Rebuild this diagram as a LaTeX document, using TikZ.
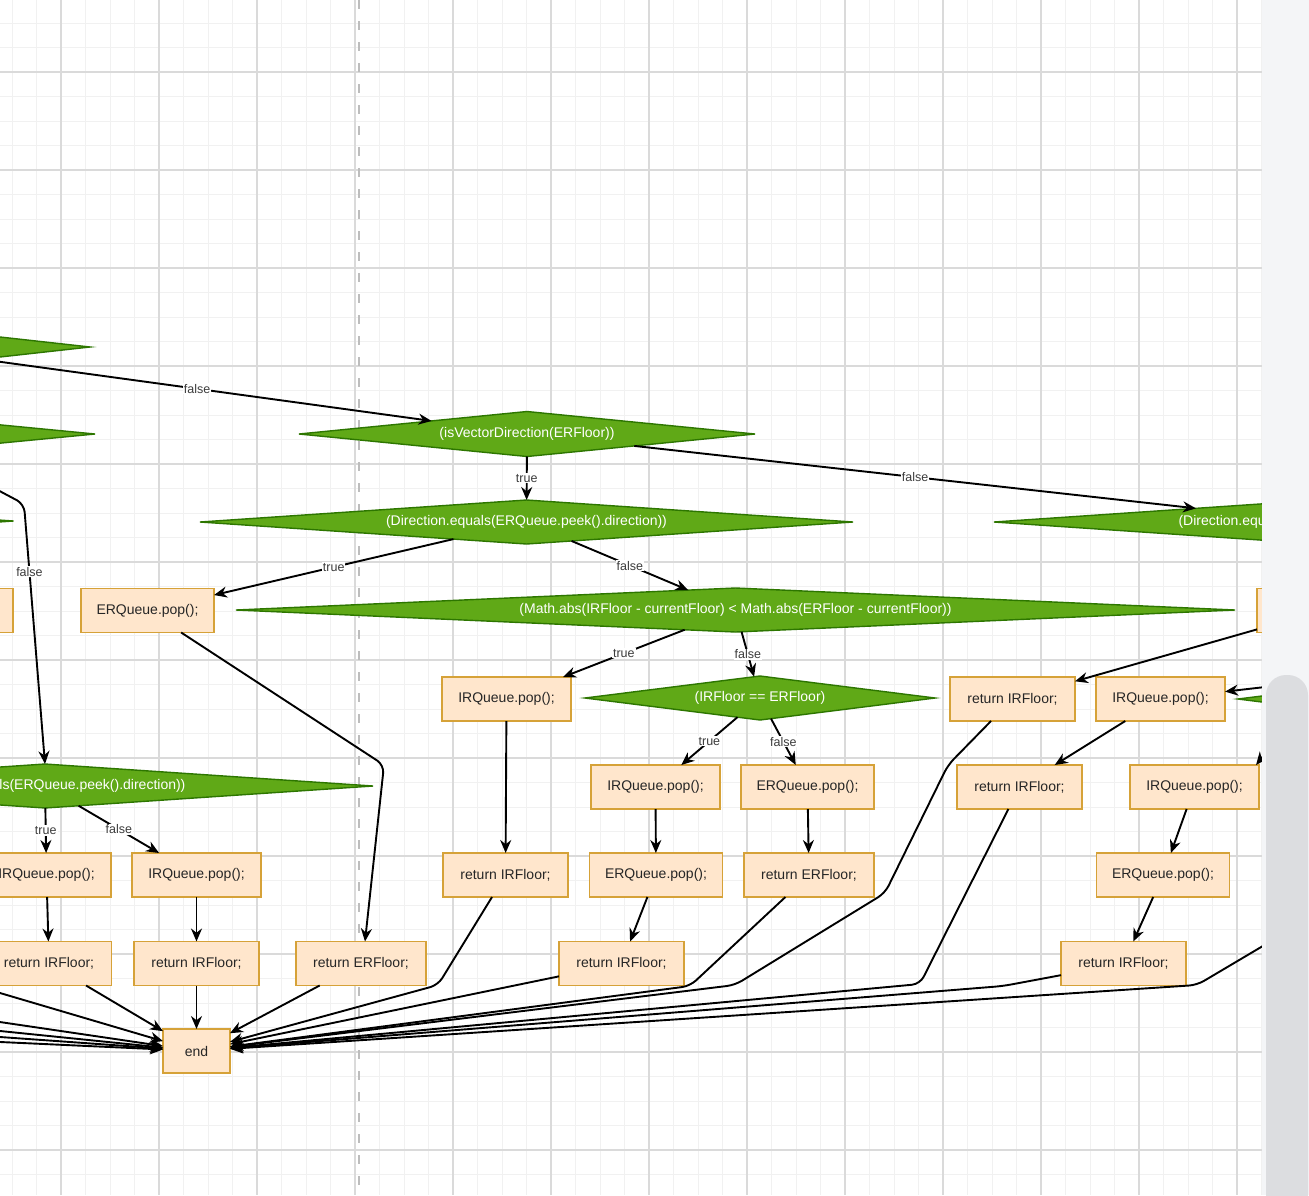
\documentclass[tikz,border=0pt]{standalone}
\usepackage{fontspec}
\setmainfont{Liberation Sans}
\usepackage{tikz}
\usepackage{xcolor}
\usetikzlibrary{shapes.geometric,arrows.meta}

\definecolor{condfill}{HTML}{60A917}
\definecolor{conddraw}{HTML}{2D7600}
\definecolor{procfill}{HTML}{FFE6CC}
\definecolor{procdraw}{RGB}{214,162,56}
\definecolor{gridminor}{HTML}{F1F1F1}
\definecolor{gridmajor}{HTML}{DADADA}
\definecolor{pageline}{HTML}{BDBDBD}
\definecolor{labtext}{HTML}{3C3C3C}
\definecolor{scrollbg}{HTML}{F4F5F7}
\definecolor{scrollthumb}{HTML}{DCDDE0}

\begin{document}
\begin{tikzpicture}[x=1pt,y=-1pt,
    cond/.style={diamond, draw=conddraw, fill=condfill, line width=1.4pt, text=white,
      inner sep=0pt, outer sep=0pt, minimum height=44, font=\fontsize{14}{16}\selectfont},
    proc/.style={rectangle, draw=procdraw, fill=procfill, line width=1.9pt, text=black!85,
      inner sep=0pt, outer sep=0pt, minimum height=44, font=\fontsize{14}{16}\selectfont},
    arr/.style={-{Stealth[length=13pt,width=11pt]}, line width=1.9pt},
    lbl/.style={fill=white, inner sep=1pt, text=labtext, font=\fontsize{12.5}{14}\selectfont}]
  \useasboundingbox (0,0) rectangle (1309,1195);
  \begin{scope}
  \clip (0,0) rectangle (1262,1195);
  \fill[white] (0,0) rectangle (1262,1195);
  \foreach \i in {0,...,51} \draw[gridminor, line width=1pt] ({12+24.5*\i},0) -- ({12+24.5*\i},1195);
  \foreach \i in {0,...,48} \draw[gridminor, line width=1pt] (0,{23+24.5*\i}) -- (1262,{23+24.5*\i});
  \foreach \i in {0,...,12} \draw[gridmajor, line width=1.2pt] ({61+98*\i},0) -- ({61+98*\i},1195);
  \foreach \i in {0,...,11} \draw[gridmajor, line width=1.2pt] (0,{72+98*\i}) -- (1262,{72+98*\i});
  \draw[pageline, line width=2.8pt, dash pattern=on 9pt off 12pt] (359,0) -- (359,1195);

  \node[cond, minimum width=396, aspect=9] (condA) at (-108,347) {};
  \node[cond, minimum width=456, aspect=10.4] (condB) at (-133,434) {};
  \node[cond, minimum width=653, aspect=14.8] (condC) at (-313,521) {};
  \node[cond, minimum width=456, minimum height=45, aspect=10.1] (isVec) at (527,434) {(isVectorDirection(ERFloor))};
  \node[cond, minimum width=653, aspect=14.8] (dirEqA) at (526.5,522) {(Direction.equals(ERQueue.peek().direction))};
  \node[cond, minimum width=650, aspect=14.8] (dirEqB) at (1319,522) {(Direction.equals(ERQueue.peek().direction))};
  \node[cond, minimum width=999, aspect=22.7] (mathAbs) at (735.5,610) {(Math.abs(IRFloor - currentFloor) < Math.abs(ERFloor - currentFloor))};
  \node[cond, minimum width=350, aspect=8] (irEq) at (760,698) {(IRFloor == ERFloor)};
  \node[cond, minimum width=350, aspect=8] (condD) at (1413,699) {};
  \node[cond, minimum width=656, aspect=14.8] (dirEqC) at (45,786) {(Direction.equals(ERQueue.peek().direction))};

  \node[proc, minimum width=133] (boxA) at (-53.5,610.5) {};
  \node[proc, minimum width=133] (erPopA) at (147.5,610.5) {ERQueue.pop();};
  \node[proc, minimum width=133] (boxB) at (1323.5,610.5) {};
  \node[proc, minimum width=129] (irPopA) at (506.5,699) {IRQueue.pop();};
  \node[proc, minimum width=125] (retIRA) at (1012.5,699) {return IRFloor;};
  \node[proc, minimum width=129] (irPopB) at (1160.5,699) {IRQueue.pop();};
  \node[proc, minimum width=129] (irPopC) at (655.5,787) {IRQueue.pop();};
  \node[proc, minimum width=133] (erPopB) at (807.5,787) {ERQueue.pop();};
  \node[proc, minimum width=125] (retIRB) at (1019.5,787) {return IRFloor;};
  \node[proc, minimum width=129] (irPopD) at (1194.5,787) {IRQueue.pop();};
  \node[proc, minimum width=129] (irPopE) at (46.5,875) {IRQueue.pop();};
  \node[proc, minimum width=129] (irPopF) at (196.5,875) {IRQueue.pop();};
  \node[proc, minimum width=125] (retIRC) at (505.5,875) {return IRFloor;};
  \node[proc, minimum width=133] (erPopC) at (656,875) {ERQueue.pop();};
  \node[proc, minimum width=130] (retERA) at (809,875) {return ERFloor;};
  \node[proc, minimum width=133] (erPopD) at (1163,875) {ERQueue.pop();};
  \node[proc, minimum width=125] (retIRD) at (49,963.5) {return IRFloor;};
  \node[proc, minimum width=125] (retIRE) at (196.5,963.5) {return IRFloor;};
  \node[proc, minimum width=130] (retERB) at (361,963.5) {return ERFloor;};
  \node[proc, minimum width=125] (retIRF) at (621.5,963.5) {return IRFloor;};
  \node[proc, minimum width=125] (retIRG) at (1123.5,963.5) {return IRFloor;};
  \node[proc, minimum width=67] (endN) at (196.5,1051) {end};

  \coordinate (srcL1) at (-40,470);
  \coordinate (srcL2) at (-150,948.7);
  \coordinate (srcL3) at (-150,999.9);
  \coordinate (srcL4) at (-150,1015.7);
  \coordinate (srcL5) at (-150,1026.3);
  \coordinate (srcL6) at (-150,1035.1);
  \coordinate (srcR1) at (1300,683);
  \coordinate (srcR2) at (1280,735);
  \coordinate (srcR3) at (1300,924);

  \draw[arr] (condA) -- node[lbl, pos=0.48] {false} (isVec);
  \draw[arr] (isVec) -- node[lbl] {true} (dirEqA);
  \draw[arr] (isVec) -- node[lbl] {false} (dirEqB);
  \draw[arr] (dirEqA) -- node[lbl] {true} (erPopA);
  \draw[arr] (dirEqA) -- node[lbl] {false} (mathAbs);
  \draw[arr] (mathAbs) -- node[lbl] {true} (irPopA);
  \draw[arr] (mathAbs) -- node[lbl] {false} (irEq);
  \draw[arr] (irEq) -- node[lbl] {true} (irPopC);
  \draw[arr] (irEq) -- node[lbl] {false} (erPopB);
  \draw[arr, rounded corners=8pt] (srcL1) -- (24,504) -- node[lbl, pos=0.26] {false} (dirEqC.north);
  \draw[arr] (dirEqC) -- node[lbl] {true} (irPopE);
  \draw[arr] (dirEqC) -- node[lbl] {false} (irPopF);

  \draw[arr] (irPopA) -- (retIRC);
  \draw[arr] (irPopC) -- (erPopC);
  \draw[arr] (erPopB) -- (retERA);
  \draw[arr] (erPopC) -- (retIRF);
  \draw[arr] (irPopB) -- (retIRB);
  \draw[arr] (irPopD) -- (erPopD);
  \draw[arr] (erPopD) -- (retIRG);
  \draw[arr] (irPopE) -- (retIRD);
  \draw[arr] (irPopF) -- (retIRE);
  \draw[arr] (boxB) -- (retIRA);
  \draw[arr] (srcR1) -- (irPopB);
  \draw[arr] (srcR2) -- ([xshift=-3pt]irPopD.north east);
  \draw[arr, rounded corners=8pt] (erPopA) -- (384,765) -- ([xshift=4pt]retERB.north);

  \draw[arr] (retIRD) -- (endN);
  \draw[arr] (retIRE) -- (endN);
  \draw[arr] (retERB) -- (endN);
  \draw[arr] (retIRF) -- (endN);
  \draw[arr, rounded corners=8pt] (retIRC) -- (438,985) -- (endN);
  \draw[arr, rounded corners=8pt] (retERA) -- (690,986) -- (endN);
  \draw[arr, rounded corners=8pt] (retIRA) -- (948,765) -- (885,893) -- (735,985) -- (endN);
  \draw[arr, rounded corners=8pt] (retIRB) -- (920,984) -- (endN);
  \draw[arr, rounded corners=8pt] (retIRG) -- (1003,986) -- (endN);
  \draw[arr, rounded corners=8pt] (srcR3) -- (1197,985) -- (endN);
  \foreach \s in {srcL2,srcL3,srcL4,srcL5,srcL6} \draw[arr] (\s) -- (endN);
  \end{scope}

  \fill[scrollbg] (1262,0) rectangle (1309,1195);
  \fill[scrollthumb, rounded corners=20pt] (1266,675) rectangle (1308,1230);
\end{tikzpicture}
\end{document}
